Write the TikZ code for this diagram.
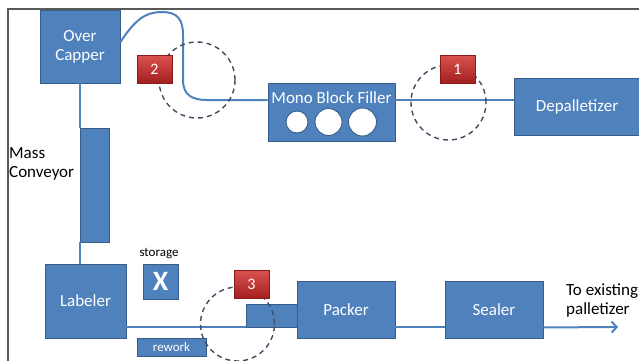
\documentclass[tikz,border=0pt]{standalone}
\usepackage{fontspec}
\setmainfont{Carlito}
\usetikzlibrary{arrows.meta}
\definecolor{boxblue}{HTML}{4F81BD}
\definecolor{boxedge}{HTML}{385D8A}
\definecolor{loupegray}{HTML}{3F4D62}
\definecolor{badgetop}{HTML}{D9534F}
\definecolor{badgebot}{HTML}{A31F1F}
\definecolor{badgeedge}{HTML}{8C1A1A}
\definecolor{framegray}{HTML}{595959}
\tikzset{
  machine/.style={draw=boxedge, fill=boxblue, line width=0.9pt, inner sep=0pt,
    text=white, align=center, font=\fontsize{17}{19}\selectfont},
  smallbox/.style={machine, font=\fontsize{13}{15}\selectfont},
  badge/.style={draw=badgeedge, top color=badgetop, bottom color=badgebot,
    minimum width=35pt, minimum height=28pt, inner sep=0pt, text=white,
    font=\fontsize{16}{18}\selectfont},
  loupe/.style={draw=loupegray, line width=1.4pt, dash pattern=on 5pt off 4pt, circle, inner sep=0pt},
  belt/.style={draw=boxblue, line width=2pt},
  bottle/.style={circle, draw=boxedge, fill=white, line width=0.9pt, inner sep=0pt},
  plain/.style={align=left, font=\fontsize{17}{19}\selectfont, inner sep=0pt}
}
\begin{document}
\begin{tikzpicture}
      [x=1pt,y=-1pt]
      \useasboundingbox (0,0) rectangle (639,360);
      % frame
      \draw[framegray, line width=2pt] (8,362) -- (8,9) -- (641,9);

      % top line
      \node[machine, minimum width=80pt, minimum height=73pt] (capper) at (80,46.5) {Over\\Capper};
      \node[machine, minimum width=127pt, minimum height=58pt] (filler) at (331.5,112) {};
      \node[text=white, font=\fontsize{17}{19}\selectfont, inner sep=0pt] (fillertitle) at (331.5,98) {Mono Block Filler};
      \foreach \cx/\cr [count=\i] in {297/11, 328.5/13.5, 362.5/14} {
        \node[bottle, minimum size=2*\cr pt] (bottle\i) at (\cx,122) {};
      }
      \node[machine, minimum width=126pt, minimum height=57pt] (depal) at (577,106.5) {Depalletizer};

      % mass conveyor
      \node[machine, minimum width=29pt, minimum height=114pt] (massconv) at (94.5,185) {};
      \node[plain, anchor=west] (massconvlabel) at (9,164) {Mass\\Conveyor};

      % bottom line
      \node[machine, minimum width=81pt, minimum height=74pt] (labeler) at (85.5,301) {Labeler};
      \node[machine, minimum width=35pt, minimum height=35pt, font=\bfseries\fontsize{28}{30}\selectfont] (storage) at (160.5,281.5) {X};
      \node[font=\fontsize{13}{15}\selectfont, inner sep=0pt] (storagelabel) at (159,253) {storage};
      \node[smallbox, minimum width=69pt, minimum height=18pt] (rework) at (171.5,347) {rework};
      \node[machine, minimum width=51pt, minimum height=23pt] (infeed) at (271.5,315.5) {};
      \node[machine, minimum width=98pt, minimum height=57pt] (packer) at (346,309.5) {Packer};
      \node[machine, minimum width=98pt, minimum height=57pt] (sealer) at (494,309.5) {Sealer};
      \node[plain, anchor=west] (palletlabel) at (566,300) {To existing\\palletizer};
      \coordinate (palletend) at (618,327);

      % belts
      \draw[belt] ([yshift=12pt]filler.east) -- ([yshift=6.5pt]depal.west);
      \draw[belt] ([yshift=4.5pt]capper.east) .. controls (135,20) and (145,12) .. (162,12)
        .. controls (178,12) and (183,20) .. (183,35) -- (183,80)
        .. controls (183,95) and (192,100) .. (207,100) -- ([yshift=12pt]filler.west);
      \draw[belt] (capper.south) -- (capper.south |- massconv.north);
      \draw[belt] (capper.south |- massconv.south) -- (capper.south |- labeler.north);
      \draw[belt] ([yshift=11pt]labeler.south east) -- (infeed.south west);
      \draw[belt] ([yshift=11pt]packer.south east) -- ([yshift=11pt]sealer.south west);
      \draw[belt, -{Straight Barb[length=5pt,width=11pt]}] ([yshift=11pt]sealer.south east) -- (palletend);

      % problem spots
      \node[loupe, minimum size=76pt] (spot2) at (197,80) {};
      \node[loupe, minimum size=75pt] (spot1) at (448.5,102.5) {};
      \node[loupe, minimum size=74pt] (spot3) at (237.5,324) {};
      \node[badge] (badge2) at (154.5,69) {2};
      \node[badge] (badge1) at (457.5,69) {1};
      \node[badge] (badge3) at (251.5,284) {3};
    \end{tikzpicture}
\end{document}
